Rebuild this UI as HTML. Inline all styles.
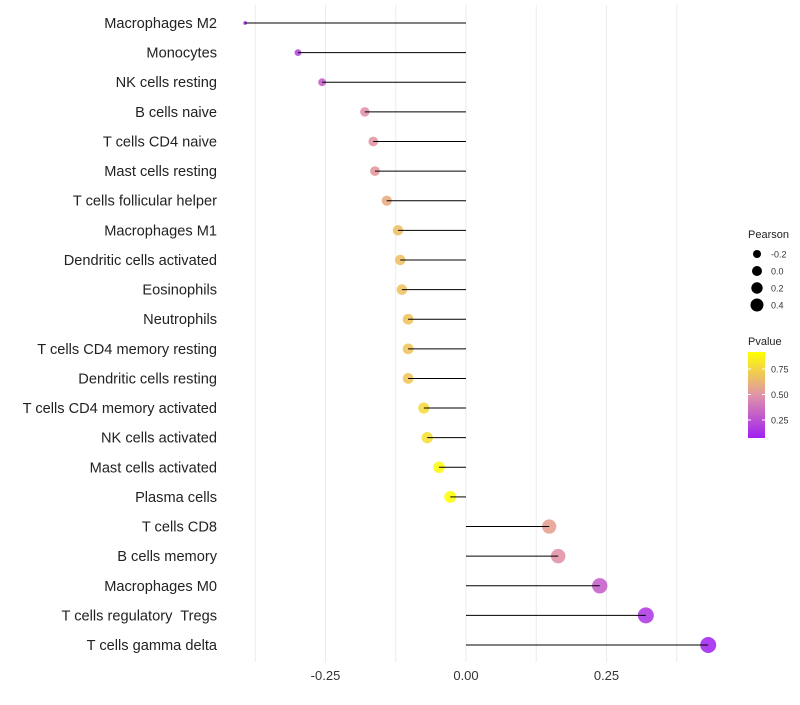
<!DOCTYPE html>
<html><head><meta charset="utf-8"><style>
body{margin:0;background:#fff;font-family:"Liberation Sans",sans-serif}
</style></head><body>
<svg id="chart" width="800" height="700" xmlns="http://www.w3.org/2000/svg">
<defs><linearGradient id="pg" x1="0" y1="1" x2="0" y2="0">
<stop offset="0" stop-color="#a020f0"/><stop offset="0.5" stop-color="#e094a8"/><stop offset="1" stop-color="#ffff00"/></linearGradient></defs>
<g id="grid"></g><g id="dots"></g><g id="marks"></g><g id="labels"></g><g id="legend"></g>
</svg>
<script>
const categories=["Macrophages M2","Monocytes","NK cells resting","B cells naive","T cells CD4 naive","Mast cells resting","T cells follicular helper","Macrophages M1","Dendritic cells activated","Eosinophils","Neutrophils","T cells CD4 memory resting","Dendritic cells resting","T cells CD4 memory activated","NK cells activated","Mast cells activated","Plasma cells","T cells CD8","B cells memory","Macrophages M0","T cells regulatory  Tregs","T cells gamma delta"];
const pearson=[-0.393,-0.299,-0.256,-0.180,-0.165,-0.162,-0.141,-0.121,-0.117,-0.114,-0.103,-0.103,-0.103,-0.075,-0.069,-0.048,-0.028,0.148,0.164,0.238,0.320,0.431];
const pvalue=[0.08,0.2,0.3,0.5,0.52,0.53,0.6,0.68,0.68,0.69,0.7,0.7,0.7,0.78,0.8,0.9,0.93,0.56,0.5,0.3,0.15,0.05];
const xTicks=[-0.25,0,0.25];
const xTickLabels=["-0.25","0.00","0.25"];
const minorTicks=[-0.375,-0.125,0.125,0.375];
const NS="http://www.w3.org/2000/svg";
const x=v=>466+v*562;
const y=i=>23+i*29.62;
const r=v=>Math.min(8,Math.sqrt(Math.max(3,38+88*v)));
function lerp(a,b,t){return a.map((c,k)=>Math.round(c+(b[k]-c)*t));}
function col(p){const lo=[160,32,240],mid=[224,140,165],hi=[255,255,0];const t=Math.min(1,Math.max(0,(p-0.08)/0.84));const c=t<0.5?lerp(lo,mid,t*2):lerp(mid,hi,(t-0.5)*2);return `rgb(${c})`;}
function mk(tag,at,parent){const e=document.createElementNS(NS,tag);for(const k in at)e.setAttribute(k,at[k]);parent.appendChild(e);return e;}
const grid=document.getElementById('grid'),marks=document.getElementById('marks'),dots=document.getElementById('dots'),labels=document.getElementById('labels');
minorTicks.concat(xTicks).forEach(v=>{const l=mk('line',{x1:x(v),x2:x(v),y1:5,y2:662,stroke:'#ebebeb','stroke-width':1},grid);

});
xTicks.forEach((v,i)=>{const t=mk('text',{x:x(v),y:680,'text-anchor':'middle','font-size':13,fill:'#333'},labels);t.textContent=xTickLabels[i];

});
categories.forEach((c,i)=>{
const t=mk('text',{x:217,y:y(i)+5,'text-anchor':'end','font-size':14.6,fill:'#222'},labels);t.textContent=c;
t.style.whiteSpace='pre';


const s=mk('line',{x1:x(0),x2:x(pearson[i]),y1:y(i),y2:y(i),stroke:'#000','stroke-width':1},marks);


const d=mk('circle',{cx:x(pearson[i]),cy:y(i),r:r(pearson[i]),fill:col(pvalue[i]),'fill-opacity':0.85},dots);


});
const lg=document.getElementById('legend');
let t=mk('text',{x:748,y:238,'font-size':11,fill:'#222'},lg);t.textContent='Pearson';


const legendVals=[-0.2,0,0.2,0.4];
const legendR=[4,5,5.7,6.5];
legendVals.forEach((v,i)=>{const cy=254+i*17;
const c=mk('circle',{cx:757,cy:cy,r:legendR[i],fill:'#000'},lg);


const tt=mk('text',{x:771,y:cy+3.5,'font-size':9,fill:'#333'},lg);tt.textContent=v.toFixed(1);

});
t=mk('text',{x:748,y:345,'font-size':11,fill:'#222'},lg);t.textContent='Pvalue';


const bar=mk('rect',{x:748,y:352,width:17,height:86,fill:'url(#pg)'},lg);


[[0.75,369],[0.5,394.5],[0.25,420]].forEach(([v,yy])=>{
const tt=mk('text',{x:771,y:yy+3.5,'font-size':9,fill:'#333'},lg);tt.textContent=v.toFixed(2);


mk('line',{x1:748,x2:751,y1:yy,y2:yy,stroke:'#fff'},lg);mk('line',{x1:762,x2:765,y1:yy,y2:yy,stroke:'#fff'},lg);});
</script>
</body></html>
